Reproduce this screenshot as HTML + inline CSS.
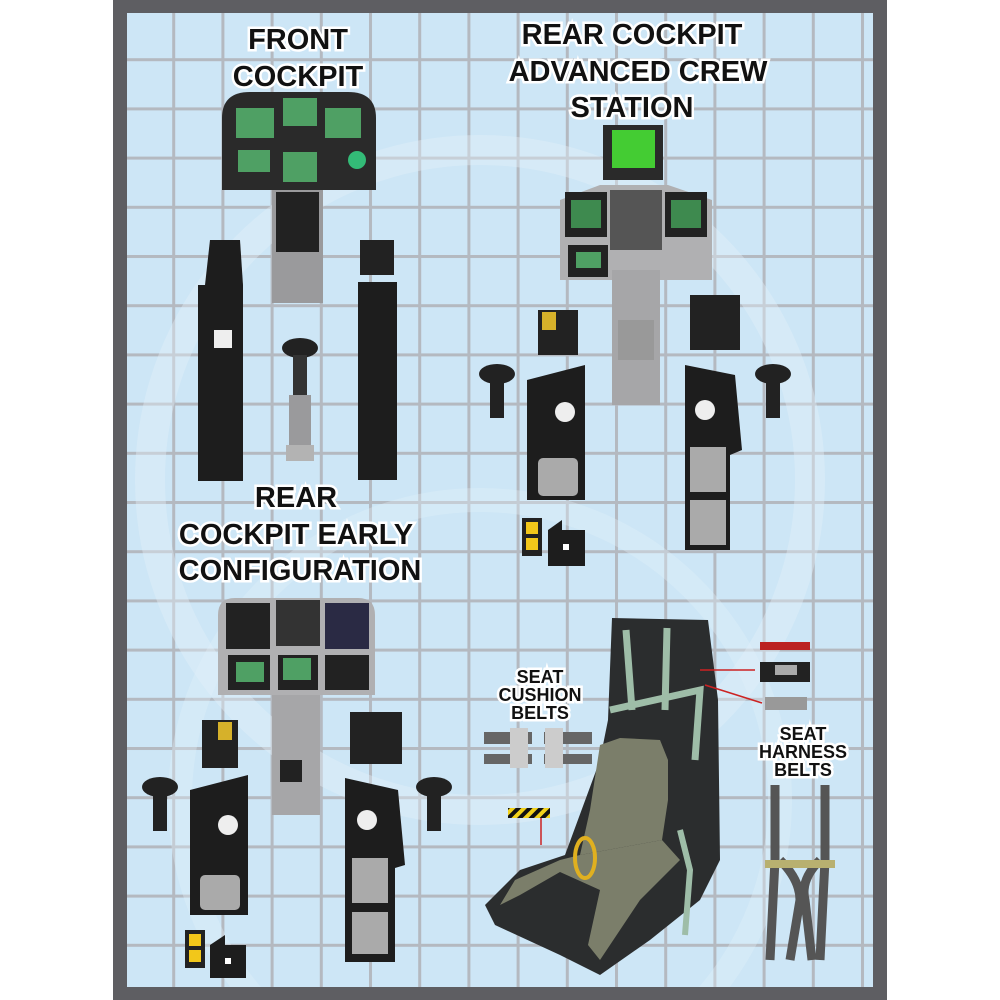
<!DOCTYPE html>
<html><head><meta charset="utf-8"><style>
html,body{margin:0;padding:0;background:#fff;width:1000px;height:1000px;overflow:hidden;}
svg{display:block;}
text{font-family:"Liberation Sans",sans-serif;font-weight:bold;text-anchor:middle;fill:#111;stroke:#fff;stroke-width:5;paint-order:stroke;}
</style></head><body>
<svg width="1000" height="1000" viewBox="0 0 1000 1000">
<defs>
<pattern id="grid" x="123" y="9" width="49.2" height="49.2" patternUnits="userSpaceOnUse">
<rect width="49.2" height="49.2" fill="#cde6f6"/>
<rect x="0" y="0" width="3" height="49.2" fill="#b4b9c0"/>
<rect x="0" y="0" width="49.2" height="3" fill="#b4b9c0"/>
</pattern>
<pattern id="haz" width="8" height="8" patternUnits="userSpaceOnUse" patternTransform="rotate(45)">
<rect width="8" height="8" fill="#f2d21a"/><rect width="4" height="8" fill="#111"/>
</pattern>
<clipPath id="inner"><rect x="127" y="13" width="746" height="974"/></clipPath>
</defs>
<rect x="113" y="0" width="774" height="1000" fill="#5e5e62"/>
<rect x="127" y="13" width="746" height="974" fill="url(#grid)"/>
<g clip-path="url(#inner)">
<circle cx="480" cy="480" r="330" fill="none" stroke="#e3f1fa" stroke-width="30" opacity="0.4"/>
<circle cx="480" cy="800" r="300" fill="none" stroke="#e3f1fa" stroke-width="24" opacity="0.35"/>
</g>

<!-- FRONT COCKPIT -->
<text x="298" y="49" font-size="29" stroke-width="6">FRONT</text>
<text x="298" y="86" font-size="29" stroke-width="6">COCKPIT</text>
<path d="M222 190 L222 118 Q222 92 250 92 L348 92 Q376 92 376 118 L376 190 Z" fill="#2a2a2a"/>
<rect x="236" y="108" width="38" height="30" fill="#4fa064"/>
<rect x="283" y="98" width="34" height="28" fill="#4fa064"/>
<rect x="325" y="108" width="36" height="30" fill="#4fa064"/>
<rect x="238" y="150" width="32" height="22" fill="#4fa064"/>
<rect x="283" y="152" width="34" height="30" fill="#4fa064"/>
<circle cx="357" cy="160" r="9" fill="#3b7"/>
<rect x="272" y="190" width="51" height="113" fill="#9a9a9c"/>
<rect x="276" y="192" width="43" height="60" fill="#222"/>
<rect x="198" y="285" width="45" height="196" fill="#1d1d1d"/>
<path d="M205 285 L210 240 L240 240 L243 285Z" fill="#1d1d1d"/>
<rect x="214" y="330" width="18" height="18" fill="#eee"/>
<rect x="358" y="282" width="39" height="198" fill="#1d1d1d"/>
<rect x="360" y="240" width="34" height="35" fill="#222"/>
<ellipse cx="300" cy="348" rx="18" ry="10" fill="#222"/>
<rect x="293" y="355" width="14" height="40" fill="#333"/>
<rect x="289" y="395" width="22" height="50" fill="#9a9a9c"/>
<rect x="286" y="445" width="28" height="16" fill="#b3b3b3"/>

<!-- REAR ACS -->
<text x="632" y="44" font-size="29" stroke-width="6">REAR COCKPIT</text>
<text x="638" y="81" font-size="29" stroke-width="6">ADVANCED CREW</text>
<text x="632" y="117" font-size="29" stroke-width="6">STATION</text>
<rect x="603" y="125" width="60" height="55" fill="#2a2a2a"/>
<rect x="612" y="130" width="43" height="38" fill="#44cc33"/>
<path d="M560 200 L600 185 L668 185 L712 200 L712 280 L560 280Z" fill="#b0b0b2"/>
<rect x="565" y="192" width="42" height="45" fill="#222"/>
<rect x="571" y="200" width="30" height="28" fill="#3e8a4f"/>
<rect x="665" y="192" width="42" height="45" fill="#222"/>
<rect x="671" y="200" width="30" height="28" fill="#3e8a4f"/>
<rect x="610" y="190" width="52" height="60" fill="#555"/>
<rect x="568" y="245" width="40" height="32" fill="#222"/>
<rect x="576" y="252" width="25" height="16" fill="#4fa064"/>
<rect x="612" y="270" width="48" height="135" fill="#a6a6a8"/>
<rect x="618" y="320" width="36" height="40" fill="#999"/>
<rect x="538" y="310" width="40" height="45" fill="#222"/>
<rect x="542" y="312" width="14" height="18" fill="#d6b12a"/>
<rect x="690" y="295" width="50" height="55" fill="#222"/>
<path d="M527 380 L585 365 L585 500 L527 500Z" fill="#1d1d1d"/>
<circle cx="565" cy="412" r="10" fill="#eee"/>
<rect x="538" y="458" width="40" height="38" rx="5" fill="#aaa"/>
<path d="M685 365 L735 375 L742 450 L730 455 L730 550 L685 550Z" fill="#1d1d1d"/>
<circle cx="705" cy="410" r="10" fill="#eee"/>
<rect x="690" y="447" width="36" height="45" fill="#aaa"/>
<rect x="690" y="500" width="36" height="45" fill="#aaa"/>
<ellipse cx="497" cy="374" rx="18" ry="10" fill="#222"/><rect x="490" y="380" width="14" height="38" fill="#222"/>
<ellipse cx="773" cy="374" rx="18" ry="10" fill="#222"/><rect x="766" y="380" width="14" height="38" fill="#222"/>
<rect x="522" y="518" width="20" height="38" fill="#222"/><rect x="526" y="522" width="12" height="12" fill="#f2c71a"/><rect x="526" y="538" width="12" height="12" fill="#f2c71a"/>
<path d="M548 530 L562 520 L562 530 L585 530 L585 566 L548 566Z" fill="#1d1d1d"/><rect x="563" y="544" width="6" height="6" fill="#fff"/>

<!-- REAR EARLY -->
<text x="296" y="507" font-size="29" stroke-width="6">REAR</text>
<text x="296" y="544" font-size="29" stroke-width="6">COCKPIT EARLY</text>
<text x="300" y="580" font-size="29" stroke-width="6">CONFIGURATION</text>
<path d="M218 695 L218 615 Q218 598 235 598 L358 598 Q375 598 375 615 L375 695Z" fill="#b0b0b2"/>
<rect x="226" y="603" width="44" height="46" fill="#222"/>
<rect x="276" y="600" width="44" height="46" fill="#333"/>
<rect x="325" y="603" width="44" height="46" fill="#2a2a44"/>
<rect x="228" y="655" width="42" height="35" fill="#222"/><rect x="236" y="662" width="28" height="20" fill="#4fa064"/>
<rect x="278" y="655" width="40" height="35" fill="#222"/><rect x="283" y="658" width="28" height="22" fill="#4fa064"/>
<rect x="325" y="655" width="44" height="35" fill="#222"/>
<rect x="272" y="695" width="48" height="120" fill="#a6a6a8"/>
<rect x="280" y="760" width="22" height="22" fill="#222"/>
<rect x="202" y="720" width="36" height="48" fill="#222"/><rect x="218" y="722" width="14" height="18" fill="#d6b12a"/>
<rect x="350" y="712" width="52" height="52" fill="#222"/>
<path d="M190 790 L248 775 L248 915 L190 915Z" fill="#1d1d1d"/>
<circle cx="228" cy="825" r="10" fill="#eee"/>
<rect x="200" y="875" width="40" height="35" rx="5" fill="#aaa"/>
<path d="M345 778 L398 790 L405 865 L395 868 L395 962 L345 962Z" fill="#1d1d1d"/>
<circle cx="367" cy="820" r="10" fill="#eee"/>
<rect x="352" y="858" width="36" height="45" fill="#aaa"/>
<rect x="352" y="912" width="36" height="42" fill="#aaa"/>
<ellipse cx="160" cy="787" rx="18" ry="10" fill="#222"/><rect x="153" y="793" width="14" height="38" fill="#222"/>
<ellipse cx="434" cy="787" rx="18" ry="10" fill="#222"/><rect x="427" y="793" width="14" height="38" fill="#222"/>
<rect x="185" y="930" width="20" height="38" fill="#222"/><rect x="189" y="934" width="12" height="12" fill="#f2c71a"/><rect x="189" y="950" width="12" height="12" fill="#f2c71a"/>
<path d="M210 945 L225 935 L225 945 L246 945 L246 978 L210 978Z" fill="#1d1d1d"/><rect x="225" y="958" width="6" height="6" fill="#fff"/>

<!-- SEAT -->
<path d="M612 618 L708 620 L718 700 L720 860 L700 900 L650 940 L600 975 L560 955 L495 925 L485 905 L520 870 L565 855 L600 760 L608 720Z" fill="#2b2d2e"/>
<path d="M600 745 L620 738 L660 740 L668 760 L668 800 L662 840 L580 855 L590 810 Z" fill="#7b7e6a"/>
<path d="M580 855 L662 840 L680 860 L640 900 L600 960 L588 945 L600 890 L560 872 L520 895 L500 905 L515 880 L560 860Z" fill="#7b7e6a"/>
<path d="M626 630 L632 710 M667 628 L665 710 M610 710 L700 690 L695 760" stroke="#9ebda8" stroke-width="7" fill="none"/>
<path d="M680 830 L690 870 L685 935" stroke="#9ebda8" stroke-width="6" fill="none"/>
<ellipse cx="585" cy="858" rx="10" ry="20" fill="none" stroke="#e0b020" stroke-width="4"/>
<rect x="508" y="808" width="42" height="10" fill="url(#haz)"/>
<line x1="541" y1="818" x2="541" y2="845" stroke="#c22" stroke-width="1.5"/>
<text x="540" y="683" font-size="18" stroke-width="4">SEAT</text>
<text x="540" y="701" font-size="18" stroke-width="4">CUSHION</text>
<text x="540" y="719" font-size="18" stroke-width="4">BELTS</text>
<rect x="484" y="732" width="48" height="12" fill="#666"/><rect x="484" y="754" width="48" height="10" fill="#666"/>
<rect x="510" y="728" width="18" height="40" fill="#ccc"/>
<rect x="544" y="732" width="48" height="12" fill="#666"/><rect x="544" y="754" width="48" height="10" fill="#666"/>
<rect x="545" y="728" width="18" height="40" fill="#ccc"/>
<rect x="760" y="642" width="50" height="8" fill="#b22"/>
<rect x="760" y="662" width="50" height="20" fill="#222"/><rect x="775" y="665" width="22" height="10" fill="#aaa"/>
<rect x="765" y="697" width="42" height="13" fill="#999"/>
<line x1="755" y1="670" x2="700" y2="670" stroke="#c22" stroke-width="1.5"/>
<line x1="762" y1="703" x2="705" y2="685" stroke="#c22" stroke-width="1.5"/>
<text x="803" y="740" font-size="18" stroke-width="4">SEAT</text>
<text x="803" y="758" font-size="18" stroke-width="4">HARNESS</text>
<text x="803" y="776" font-size="18" stroke-width="4">BELTS</text>
<path d="M775 785 L775 860 L770 960 M825 785 L825 860 L820 960 M780 860 Q800 880 800 900 L790 960 M820 860 Q800 880 805 900 L812 960" stroke="#555" stroke-width="9" fill="none"/>
<rect x="765" y="860" width="70" height="8" fill="#b8b070"/>
</svg>
</body></html>
